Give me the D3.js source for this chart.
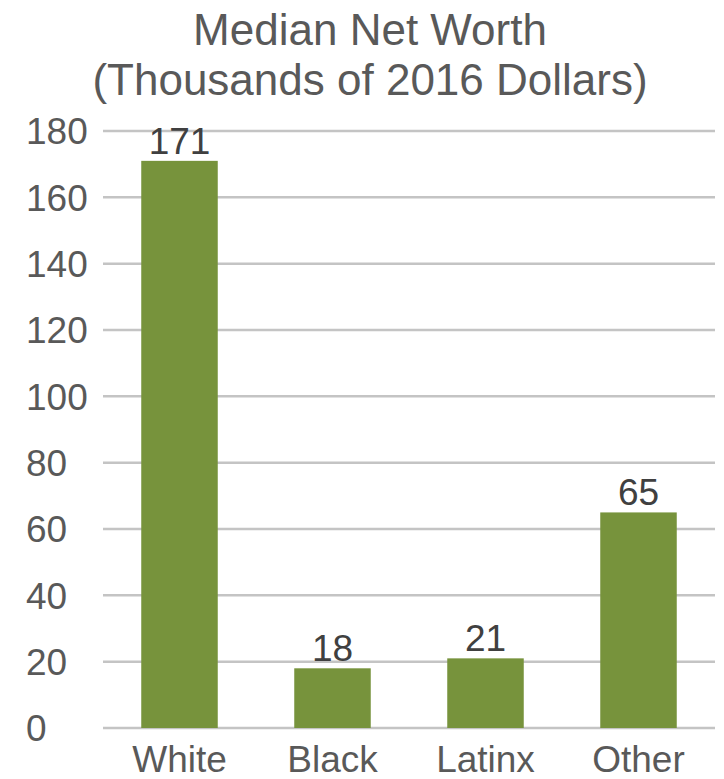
<!DOCTYPE html>
<html>
<head>
<meta charset="utf-8">
<script src="https://cdn.jsdelivr.net/npm/d3@7"></script>
<style>
  html, body { margin: 0; padding: 0; background: #fff; }
  svg { display: block; }
  text { font-family: "Liberation Sans", Arial, sans-serif; }
</style>
</head>
<body>
<svg id="chart" width="724" height="779"></svg>
<script>
const categories = ["White", "Black", "Latinx", "Other"];
const values = [171, 18, 21, 65];
const yTicks = [0, 20, 40, 60, 80, 100, 120, 140, 160, 180];
const titleLines = ["Median Net Worth", "(Thousands of 2016 Dollars)"];

const svg = d3.select("#chart");
const margin = { left: 103, right: 9, top: 131, bottom: 51 };
const W = 724, H = 779;

const x = d3.scaleBand()
  .domain(categories)
  .range([margin.left, W - margin.right])
  .paddingInner(0.5)
  .paddingOuter(0.25);

const y = d3.scaleLinear()
  .domain([0, 180])
  .range([H - margin.bottom, margin.top]);

// gridlines
svg.append("g")
  .selectAll("line")
  .data(yTicks)
  .join("line")
  .attr("x1", margin.left)
  .attr("x2", W - margin.right)
  .attr("y1", d => y(d))
  .attr("y2", d => y(d))
  .attr("stroke", "#C4C4C4")
  .attr("stroke-width", 2.5);

// y axis labels (left-aligned, as in the reference)
const yAxis = d3.axisLeft(y).tickValues(yTicks).tickSize(0).tickPadding(0);
const yg = svg.append("g")
  .attr("transform", `translate(${margin.left},0)`)
  .call(yAxis);
yg.select(".domain").remove();
yg.selectAll("text")
  .attr("x", 26 - margin.left)
  .attr("text-anchor", "start")
  .attr("font-size", 37)
  .attr("fill", "#595959")
  .attr("dy", "0.35em")
  .style("font-family", '"Liberation Sans", Arial, sans-serif');

// bars
svg.append("g")
  .selectAll("rect")
  .data(values)
  .join("rect")
  .attr("x", (d, i) => x(categories[i]))
  .attr("width", x.bandwidth())
  .attr("y", d => y(d))
  .attr("height", d => y(0) - y(d))
  .attr("fill", "#77933C");

// data labels
svg.append("g")
  .selectAll("text")
  .data(values)
  .join("text")
  .attr("x", (d, i) => x(categories[i]) + x.bandwidth() / 2)
  .attr("y", d => y(d) - 7)
  .attr("text-anchor", "middle")
  .attr("font-size", 37)
  .attr("fill", "#404040")
  .text(d => d);

// x axis labels
const xAxis = d3.axisBottom(x).tickSize(0).tickPadding(0);
const xg = svg.append("g")
  .attr("transform", `translate(0,${y(0)})`)
  .call(xAxis);
xg.select(".domain").remove();
xg.selectAll("text")
  .attr("y", 772 - y(0))
  .attr("dy", 0)
  .attr("font-size", 37)
  .attr("fill", "#595959")
  .style("font-family", '"Liberation Sans", Arial, sans-serif');

// title
svg.append("g")
  .selectAll("text")
  .data(titleLines)
  .join("text")
  .attr("x", 370)
  .attr("y", (d, i) => 45 + i * 50)
  .attr("text-anchor", "middle")
  .attr("font-size", 44)
  .attr("fill", "#595959")
  .text(d => d);
</script>
</body>
</html>
